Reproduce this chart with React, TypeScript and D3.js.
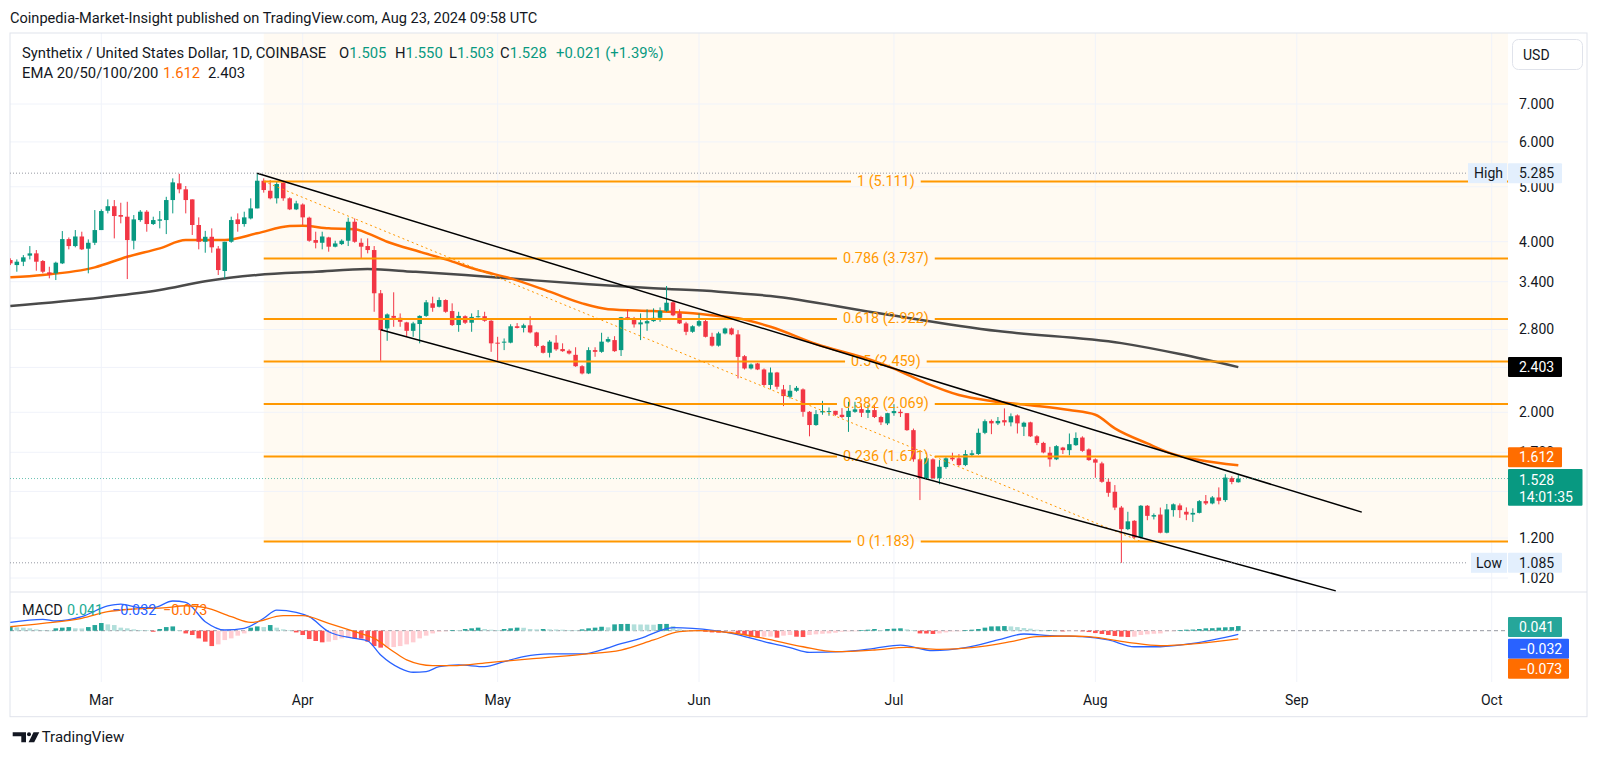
import React from "react";
import * as d3 from "d3";

// ---------- DATA ----------
const FIRST_DAY = "2024-02-16";
const opens = [
  3.713, 3.638, 3.688, 3.780, 3.815, 3.698, 3.532, 3.518, 3.663, 4.043,
  3.930, 4.086, 3.888, 3.983, 4.194, 4.536, 4.621, 4.458, 4.428, 4.016,
  4.368, 4.519, 4.298, 4.356, 4.368, 4.738, 5.071, 4.949, 4.751, 4.281,
  3.999, 4.081, 3.890, 3.551, 3.999, 4.380, 4.298, 4.397, 4.580, 5.125,
  4.921, 4.772, 5.084, 4.772, 4.562, 4.653, 4.410, 4.027, 3.983, 4.070,
  3.920, 3.962, 4.016, 4.338, 3.983, 3.930, 3.867, 3.244, 2.812, 2.959,
  2.936, 2.882, 2.785, 2.863, 2.959, 3.114, 3.071, 3.156, 3.018, 2.851,
  2.955, 2.878, 2.943, 2.955, 2.901, 2.654, 2.654, 2.654, 2.837, 2.818,
  2.848, 2.767, 2.619, 2.547, 2.654, 2.586, 2.568, 2.526, 2.412, 2.342,
  2.575, 2.557, 2.665, 2.682, 2.575, 2.943, 2.921, 2.859, 2.870, 2.897,
  2.936, 3.021, 3.127, 2.990, 2.870, 2.774, 2.844, 2.897, 2.718, 2.622,
  2.756, 2.812, 2.745, 2.512, 2.390, 2.439, 2.380, 2.235, 2.351, 2.195,
  2.130, 2.183, 2.195, 2.004, 1.899, 1.999, 2.004, 2.012, 1.980, 1.962,
  2.004, 2.026, 1.996, 2.018, 1.962, 1.912, 1.993, 2.004, 1.993, 1.860,
  1.652, 1.530, 1.652, 1.530, 1.601, 1.663, 1.659, 1.614, 1.682, 1.688,
  1.840, 1.931, 1.912, 1.937, 1.920, 1.975, 1.886, 1.920, 1.814, 1.766,
  1.697, 1.652, 1.733, 1.715, 1.750, 1.805, 1.720, 1.652, 1.625, 1.508,
  1.448, 1.358, 1.244, 1.287, 1.202, 1.368, 1.309, 1.320, 1.226, 1.344,
  1.370, 1.335, 1.320, 1.329, 1.394, 1.381, 1.415, 1.400, 1.531, 1.505,
];
const highs = [
  3.739, 3.723, 3.789, 3.930, 3.867, 3.713, 3.613, 3.688, 4.177, 4.070,
  4.194, 4.166, 4.038, 4.549, 4.562, 4.751, 4.738, 4.686, 4.705, 4.458,
  4.549, 4.549, 4.428, 4.531, 4.801, 5.174, 5.270, 5.016, 4.751, 4.416,
  4.180, 4.223, 3.930, 3.999, 4.428, 4.488, 4.519, 4.771, 5.285, 5.174,
  5.139, 5.104, 5.104, 4.791, 4.724, 4.674, 4.428, 4.166, 4.166, 4.081,
  4.016, 4.038, 4.410, 4.397, 4.054, 4.054, 3.930, 3.287, 2.989, 3.257,
  2.989, 2.889, 2.889, 2.966, 3.156, 3.199, 3.191, 3.165, 3.114, 3.009,
  2.966, 2.989, 3.030, 3.009, 2.909, 2.718, 2.700, 2.860, 2.874, 2.867,
  2.955, 2.774, 2.629, 2.682, 2.736, 2.647, 2.583, 2.605, 2.422, 2.605,
  2.605, 2.763, 2.718, 2.725, 2.947, 3.039, 2.947, 2.989, 3.039, 3.051,
  3.063, 3.341, 3.144, 3.039, 2.889, 2.848, 2.989, 2.917, 2.763, 2.774,
  2.822, 2.822, 2.793, 2.523, 2.439, 2.445, 2.390, 2.399, 2.357, 2.235,
  2.235, 2.225, 2.204, 2.010, 2.018, 2.095, 2.040, 2.012, 2.034, 2.087,
  2.087, 2.073, 2.060, 2.060, 1.972, 1.996, 2.067, 2.024, 1.993, 1.872,
  1.659, 1.666, 1.659, 1.647, 1.666, 1.697, 1.688, 1.715, 1.715, 1.872,
  1.943, 1.943, 1.962, 2.032, 1.991, 1.983, 1.925, 1.925, 1.822, 1.774,
  1.738, 1.750, 1.738, 1.835, 1.843, 1.814, 1.727, 1.659, 1.636, 1.528,
  1.488, 1.367, 1.335, 1.290, 1.372, 1.372, 1.326, 1.358, 1.378, 1.381,
  1.381, 1.359, 1.354, 1.400, 1.429, 1.423, 1.474, 1.555, 1.542, 1.550,
];
const lows = [
  3.638, 3.541, 3.623, 3.723, 3.555, 3.518, 3.447, 3.423, 3.653, 3.878,
  3.910, 3.867, 3.518, 3.946, 4.194, 4.488, 4.054, 4.310, 3.437, 3.878,
  4.338, 4.166, 4.281, 4.223, 4.126, 4.488, 4.870, 4.488, 4.111, 3.878,
  3.825, 3.825, 3.494, 3.447, 3.983, 4.166, 4.252, 4.380, 4.580, 4.883,
  4.752, 4.672, 4.724, 4.549, 4.549, 4.281, 3.999, 3.893, 3.878, 3.841,
  3.910, 3.946, 3.930, 3.983, 3.739, 3.815, 3.009, 2.465, 2.674, 2.831,
  2.831, 2.718, 2.718, 2.647, 2.947, 3.009, 3.063, 2.997, 2.840, 2.774,
  2.863, 2.774, 2.939, 2.889, 2.557, 2.465, 2.575, 2.647, 2.812, 2.767,
  2.756, 2.605, 2.540, 2.499, 2.568, 2.557, 2.530, 2.406, 2.333, 2.336,
  2.506, 2.547, 2.654, 2.557, 2.514, 2.909, 2.822, 2.682, 2.785, 2.889,
  2.889, 3.009, 2.955, 2.863, 2.736, 2.763, 2.831, 2.711, 2.612, 2.612,
  2.745, 2.736, 2.295, 2.380, 2.380, 2.374, 2.225, 2.195, 2.195, 2.051,
  2.116, 2.174, 1.964, 1.814, 1.893, 1.980, 1.972, 1.972, 1.954, 1.847,
  1.996, 1.962, 1.954, 1.954, 1.899, 1.899, 1.972, 1.962, 1.855, 1.636,
  1.400, 1.523, 1.523, 1.493, 1.590, 1.640, 1.607, 1.607, 1.670, 1.682,
  1.830, 1.830, 1.899, 1.894, 1.889, 1.835, 1.816, 1.809, 1.750, 1.693,
  1.603, 1.647, 1.688, 1.679, 1.745, 1.703, 1.642, 1.533, 1.502, 1.419,
  1.344, 1.085, 1.239, 1.198, 1.198, 1.290, 1.294, 1.223, 1.223, 1.309,
  1.302, 1.290, 1.281, 1.326, 1.372, 1.376, 1.376, 1.390, 1.493, 1.503,
];
const closes = [
  3.663, 3.688, 3.754, 3.815, 3.688, 3.541, 3.504, 3.673, 4.043, 3.930,
  4.086, 3.878, 3.983, 4.194, 4.531, 4.621, 4.440, 4.428, 4.027, 4.380,
  4.519, 4.298, 4.368, 4.380, 4.738, 5.091, 4.949, 4.738, 4.281, 3.999,
  4.081, 3.910, 3.565, 3.999, 4.368, 4.298, 4.416, 4.580, 5.125, 4.935,
  4.772, 5.057, 4.772, 4.562, 4.674, 4.416, 4.016, 3.983, 4.086, 3.920,
  3.972, 4.016, 4.338, 3.999, 3.920, 3.867, 3.244, 2.793, 2.977, 2.936,
  2.889, 2.785, 2.870, 2.959, 3.127, 3.058, 3.156, 3.009, 2.851, 2.959,
  2.878, 2.947, 2.955, 2.901, 2.647, 2.647, 2.665, 2.837, 2.818, 2.848,
  2.767, 2.619, 2.547, 2.665, 2.583, 2.564, 2.540, 2.412, 2.342, 2.575,
  2.557, 2.665, 2.693, 2.564, 2.943, 2.921, 2.859, 2.882, 2.897, 2.936,
  3.021, 3.122, 2.966, 2.870, 2.774, 2.837, 2.897, 2.718, 2.622, 2.756,
  2.812, 2.745, 2.505, 2.390, 2.429, 2.380, 2.235, 2.351, 2.219, 2.136,
  2.183, 2.209, 2.004, 1.899, 1.985, 2.010, 2.010, 1.980, 1.962, 2.012,
  2.024, 1.996, 2.018, 1.962, 1.920, 1.993, 2.010, 1.993, 1.860, 1.652,
  1.530, 1.659, 1.530, 1.603, 1.659, 1.652, 1.614, 1.688, 1.693, 1.840,
  1.929, 1.912, 1.931, 1.920, 1.968, 1.912, 1.917, 1.814, 1.766, 1.699,
  1.652, 1.743, 1.715, 1.757, 1.802, 1.710, 1.647, 1.630, 1.508, 1.442,
  1.358, 1.244, 1.284, 1.202, 1.368, 1.313, 1.317, 1.226, 1.348, 1.376,
  1.344, 1.320, 1.329, 1.394, 1.381, 1.415, 1.396, 1.534, 1.507, 1.528,
];
const macdHist = [
  0.035, 0.030, 0.027, 0.021, 0.012, 0.003, 0.001, 0.021, 0.027, 0.032,
  0.021, 0.020, 0.032, 0.050, 0.068, 0.056, 0.050, 0.027, 0.021, 0.012,
  0.006, 0.003, -0.009, 0.015, 0.032, 0.038, 0.006, -0.024, -0.038, -0.068,
  -0.097, -0.136, -0.121, -0.083, -0.068, -0.044, -0.024, 0.027, 0.038, 0.032,
  0.050, 0.027, 0.012, 0.003, -0.015, -0.038, -0.074, -0.091, -0.103, -0.097,
  -0.083, -0.068, -0.062, -0.068, -0.070, -0.097, -0.136, -0.150, -0.148, -0.145,
  -0.136, -0.121, -0.103, -0.068, -0.044, -0.024, -0.009, -0.001, 0.006, 0.005,
  0.015, 0.021, 0.027, 0.015, 0.009, 0.006, 0.015, 0.021, 0.027, 0.026,
  0.015, 0.012, 0.015, 0.012, 0.011, 0.009, 0.006, 0.003, 0.012, 0.021,
  0.027, 0.035, 0.030, 0.056, 0.059, 0.060, 0.056, 0.055, 0.054, 0.053,
  0.059, 0.060, 0.041, 0.012, 0.006, 0.003, 0.001, -0.009, -0.015, -0.018,
  -0.015, -0.012, -0.024, -0.038, -0.053, -0.059, -0.053, -0.052, -0.062, -0.044,
  -0.038, -0.053, -0.056, -0.038, -0.032, -0.027, -0.024, -0.018, -0.009, -0.006,
  -0.001, 0.006, 0.009, 0.015, 0.006, 0.015, 0.018, 0.021, 0.012, 0.003,
  -0.024, -0.025, -0.029, -0.024, -0.015, -0.006, -0.001, 0.006, 0.009, 0.015,
  0.027, 0.038, 0.039, 0.041, 0.038, 0.032, 0.024, 0.018, 0.009, 0.003,
  0.004, 0.001, -0.006, -0.003, -0.001, -0.006, -0.012, -0.021, -0.029, -0.038,
  -0.047, -0.053, -0.056, -0.053, -0.038, -0.032, -0.027, -0.024, -0.006, -0.001,
  0.006, 0.009, 0.010, 0.015, 0.021, 0.022, 0.027, 0.030, 0.032, 0.041,
];

const ema50Dates = [
  "2024-02-16", "2024-02-21", "2024-02-29", "2024-03-05", "2024-03-10", "2024-03-14",
  "2024-03-20", "2024-03-25", "2024-03-30", "2024-04-01", "2024-04-05", "2024-04-09",
  "2024-04-11", "2024-04-14", "2024-04-19", "2024-04-23", "2024-04-28", "2024-05-03",
  "2024-05-09", "2024-05-14", "2024-05-18", "2024-05-25", "2024-05-30", "2024-06-04",
  "2024-06-07", "2024-06-12", "2024-06-19", "2024-06-28", "2024-07-01", "2024-07-06",
  "2024-07-11", "2024-07-16", "2024-07-22", "2024-07-28", "2024-08-01", "2024-08-04",
  "2024-08-09", "2024-08-13", "2024-08-17", "2024-08-23",
];
const ema50Values = [
  3.461, 3.494, 3.604, 3.763, 3.894, 4.027, 4.027, 4.139, 4.263, 4.268, 4.223, 4.206,
  4.139, 4.000, 3.840, 3.723, 3.565, 3.447, 3.265, 3.114, 3.041, 3.018, 2.997, 2.959,
  2.931, 2.831, 2.640, 2.461, 2.388, 2.250, 2.146, 2.094, 2.058, 2.018, 1.980, 1.873,
  1.762, 1.687, 1.647, 1.612,
];
const ema200Dates = [
  "2024-02-16", "2024-03-01", "2024-03-10", "2024-03-17", "2024-03-25", "2024-04-03",
  "2024-04-11", "2024-04-18", "2024-04-26", "2024-05-06", "2024-05-15", "2024-05-25",
  "2024-06-04", "2024-06-12", "2024-06-28", "2024-07-17", "2024-08-05", "2024-08-14",
  "2024-08-23",
];
const ema200Values = [
  3.080, 3.189, 3.287, 3.405, 3.494, 3.541, 3.579, 3.541, 3.494, 3.423, 3.364, 3.310,
  3.265, 3.208, 3.000, 2.782, 2.649, 2.534, 2.403,
];
const macdDates = [
  "2024-02-16", "2024-02-21", "2024-02-23", "2024-02-27", "2024-03-02", "2024-03-04",
  "2024-03-07", "2024-03-09", "2024-03-12", "2024-03-14", "2024-03-17", "2024-03-20",
  "2024-03-23", "2024-03-26", "2024-03-28", "2024-03-31", "2024-04-02", "2024-04-05",
  "2024-04-09", "2024-04-11", "2024-04-13", "2024-04-16", "2024-04-18", "2024-04-20",
  "2024-04-22", "2024-04-25", "2024-04-29", "2024-05-02", "2024-05-05", "2024-05-09",
  "2024-05-14", "2024-05-17", "2024-05-20", "2024-05-23", "2024-05-28", "2024-05-31",
  "2024-06-06", "2024-06-11", "2024-06-15", "2024-06-18", "2024-06-23", "2024-06-28",
  "2024-07-02", "2024-07-07", "2024-07-12", "2024-07-17", "2024-07-21", "2024-07-25",
  "2024-07-30", "2024-08-03", "2024-08-07", "2024-08-11", "2024-08-16", "2024-08-23",
];
const macdValues = [
  0.074, 0.101, 0.086, 0.124, 0.219, 0.236, 0.204, 0.204, 0.263, 0.251, 0.080, 0.006,
  0.021, 0.110, 0.183, 0.163, 0.124, -0.009, -0.068, -0.091, -0.215, -0.333, -0.368, -0.362,
  -0.318, -0.303, -0.318, -0.274, -0.230, -0.206, -0.206, -0.170, -0.115, -0.068, 0.027, 0.021,
  -0.023, -0.097, -0.150, -0.192, -0.186, -0.156, -0.127, -0.177, -0.150, -0.082, -0.029, -0.044,
  -0.053, -0.082, -0.142, -0.142, -0.112, -0.032,
];
const signalDates = [
  "2024-02-16", "2024-02-21", "2024-02-27", "2024-03-02", "2024-03-06", "2024-03-11",
  "2024-03-14", "2024-03-17", "2024-03-21", "2024-03-24", "2024-03-29", "2024-04-01",
  "2024-04-05", "2024-04-09", "2024-04-12", "2024-04-15", "2024-04-17", "2024-04-21",
  "2024-04-24", "2024-04-30", "2024-05-06", "2024-05-14", "2024-05-20", "2024-05-25",
  "2024-05-29", "2024-06-01", "2024-06-06", "2024-06-11", "2024-06-17", "2024-06-22",
  "2024-06-28", "2024-07-03", "2024-07-08", "2024-07-13", "2024-07-19", "2024-07-23",
  "2024-07-28", "2024-07-31", "2024-08-06", "2024-08-11", "2024-08-17", "2024-08-23",
];
const signalValues = [
  0.035, 0.065, 0.110, 0.168, 0.192, 0.204, 0.221, 0.204, 0.124, 0.074, 0.133, 0.133,
  0.065, -0.009, -0.068, -0.186, -0.259, -0.310, -0.310, -0.280, -0.250, -0.209, -0.171, -0.082,
  -0.009, 0.000, -0.018, -0.068, -0.142, -0.186, -0.171, -0.148, -0.165, -0.150, -0.097, -0.053,
  -0.047, -0.053, -0.103, -0.133, -0.112, -0.073,
];

const priceGridTicks = [7, 6, 5, 4, 3.4, 2.8, 2.4, 2.0, 1.7, 1.45, 1.2, 1.02];
const priceLabelTicks = [7, 6, 5, 4, 3.4, 2.8, 2.0, 1.7, 1.2, 1.02];
const monthTicks = ["2024-03-01", "2024-04-01", "2024-05-01", "2024-06-01", "2024-07-01", "2024-08-01", "2024-09-01", "2024-10-01"];
const monthLabels = ["Mar", "Apr", "May", "Jun", "Jul", "Aug", "Sep", "Oct"];

const fibRatios = ["1", "0.786", "0.618", "0.5", "0.382", "0.236", "0"];
const fibPrices = [5.111, 3.737, 2.922, 2.459, 2.069, 1.671, 1.183];
const fibAnchorDates = ["2024-03-26", "2024-08-08"];
const fibAnchorPrices = [5.111, 1.183];
const upperChannelDates = ["2024-03-25", "2024-09-11"];
const upperChannelPrices = [5.285, 1.333];
const lowerChannelDates = ["2024-04-13", "2024-09-07"];
const lowerChannelPrices = [2.798, 0.968];

const highValue = 5.285;
const lowValue = 1.085;
const lastEma50 = 1.612;
const lastEma200 = 2.403;
const lastMacd = { hist: 0.041, macd: -0.032, signal: -0.073 };

// ---------- HELPERS ----------
const FONT = "Roboto, 'Noto Sans', 'DejaVu Sans', sans-serif";
const parse = d3.utcParse("%Y-%m-%d");
let _ctx: CanvasRenderingContext2D | null = null;
function textW(t: string, size: number) {
  if (!_ctx) _ctx = document.createElement("canvas").getContext("2d");
  if (!_ctx) return t.length * size * 0.55;
  _ctx.font = `${size}px Roboto`;
  return _ctx.measureText(t).width;
}

const UP = "#089981";
const DOWN = "#f23645";
const FIB = "#ff9800";
const EMA_O = "#ff6d00";
const TEXT = "#131722";
const GRID = "#f0f3fa";

export default function App() {
  const L = 10, R = 1587, AX = 1508, TOP = 33, PB = 592, MB = 682, BOT = 716.7;

  const x = d3.scaleUtc()
    .domain([parse("2024-03-01")!, parse("2024-10-01")!])
    .range([101.3, 1491.7]);
  const y = d3.scaleLog().domain([1.02, 7]).range([578, 104]);
  const my = d3.scaleLinear().domain([-0.37, 0.27]).range([672.5, 600.2]);

  const day0 = parse(FIRST_DAY)!;
  const dates = closes.map((_, i) => d3.utcDay.offset(day0, i));
  const bw = 4.5;

  const priceLine = d3.line<[Date, number]>().x(d => x(d[0])).y(d => y(d[1])).curve(d3.curveMonotoneX);
  const macdLine = d3.line<[Date, number]>().x(d => x(d[0])).y(d => my(d[1])).curve(d3.curveMonotoneX);
  const zip = (ds: string[], vs: number[]) => ds.map((d, i) => [parse(d)!, vs[i]] as [Date, number]);

  const fibX0 = x(parse(fibAnchorDates[0])!);
  const fibCx = (fibX0 + AX) / 2;

  const histColor = (i: number) => {
    const v = macdHist[i];
    const p = i > 0 ? macdHist[i - 1] : 0;
    if (v >= 0) return v > p ? "#26a69a" : "#b2dfdb";
    return v < p ? "#ff5252" : "#ffcdd2";
  };

  const seg = (ds: string[], ps: number[], yy: (v: number) => number) => ({
    x1: x(parse(ds[0])!), y1: yy(ps[0]), x2: x(parse(ds[1])!), y2: yy(ps[1]),
  });
  const up = seg(upperChannelDates, upperChannelPrices, y);
  const lo = seg(lowerChannelDates, lowerChannelPrices, y);
  const fibTrend = seg(fibAnchorDates, fibAnchorPrices, y);

  const lastClose = closes[closes.length - 1];
  const box = (yc: number, w: number, fill: string, label: string, color = "#fff") => (
    <g>
      <rect x={AX} y={yc - 10} width={w} height={20} fill={fill} rx={1} />
      <text x={AX + 11} y={yc} dominantBaseline="central" fontSize={14} fill={color}>{label}</text>
    </g>
  );

  return (
    <svg width={1600} height={759} style={{ position: "absolute", left: 0, top: 0, fontFamily: FONT }}>
      <rect x={0} y={0} width={1600} height={759} fill="#fff" />
      <defs>
        <clipPath id="pp"><rect x={L} y={TOP} width={AX - L} height={PB - TOP} /></clipPath>
        <clipPath id="mp"><rect x={L} y={PB} width={AX - L} height={MB - PB} /></clipPath>
        <clipPath id="axisClip"><rect x={AX} y={TOP} width={R - AX} height={PB - TOP} /></clipPath>
      </defs>

      <text x={10} y={23} fontSize={14.6} fill={TEXT}>
        Coinpedia-Market-Insight published on TradingView.com, Aug 23, 2024 09:58 UTC
      </text>

      {/* fib background */}
      <rect x={fibX0} y={TOP} width={AX - fibX0} height={y(fibPrices[6]) - TOP} fill="#fffaf2" />

      {/* grid */}
      <g stroke={GRID} strokeWidth={1}>
        {priceGridTicks.map(t => (
          <line key={"h" + t} x1={L} x2={AX} y1={y(t)} y2={y(t)} />
        ))}
        {monthTicks.map(m => (
          <line key={"v" + m} x1={x(parse(m)!)} x2={x(parse(m)!)} y1={TOP} y2={MB} />
        ))}
      </g>

      {/* frame */}
      <rect x={L} y={TOP} width={R - L} height={BOT - TOP} fill="none" stroke="#e0e3eb" />
      <line x1={L} x2={R} y1={PB} y2={PB} stroke="#e0e3eb" />

      <g clipPath="url(#pp)">
        {/* EMAs */}
        <path d={priceLine(zip(ema200Dates, ema200Values)) || ""} fill="none" stroke="#4a4a4a" strokeWidth={2.5} />
        <path d={priceLine(zip(ema50Dates, ema50Values)) || ""} fill="none" stroke={EMA_O} strokeWidth={2.5} />

        {/* candles */}
        {closes.map((c, i) => {
          const o = opens[i];
          const cx = x(dates[i]);
          const col = c >= o ? UP : DOWN;
          const yt = y(Math.max(o, c));
          const yb = y(Math.min(o, c));
          return (
            <g key={i}>
              <line x1={cx} x2={cx} y1={y(highs[i])} y2={y(lows[i])} stroke={col} strokeWidth={1} />
              <rect x={cx - bw / 2} y={yt} width={bw} height={Math.max(1, yb - yt)} fill={col} />
            </g>
          );
        })}

        {/* fib levels */}
        {fibPrices.map((p, i) => {
          const label = `${fibRatios[i]} (${p.toFixed(3)})`;
          const w = textW(label, 14.4);
          const yy = y(p);
          return (
            <g key={"f" + i}>
              <line x1={fibX0} x2={fibCx - w / 2 - 6} y1={yy} y2={yy} stroke={FIB} strokeWidth={2} />
              <line x1={fibCx + w / 2 + 6} x2={AX} y1={yy} y2={yy} stroke={FIB} strokeWidth={2} />
              <text x={fibCx} y={yy} textAnchor="middle" dominantBaseline="central" fontSize={14.4} fill={FIB}>{label}</text>
            </g>
          );
        })}

        {/* drawings */}
        <line {...fibTrend} stroke={FIB} strokeWidth={1} strokeDasharray="2 3" />
        <line {...up} stroke="#000" strokeWidth={1.5} />
        <line {...lo} stroke="#000" strokeWidth={1.5} />
      </g>

      {/* dotted marker lines */}
      <line x1={L} x2={1468} y1={y(highValue)} y2={y(highValue)} stroke="#9598a1" strokeDasharray="1 2" />
      <line x1={L} x2={1468} y1={y(lowValue)} y2={y(lowValue)} stroke="#9598a1" strokeDasharray="1 2" />
      <line x1={L} x2={AX} y1={y(lastClose)} y2={y(lastClose)} stroke={UP} strokeOpacity={0.6} strokeDasharray="1 2" />

      {/* legends */}
      <text y={58} fontSize={14.8} fill={TEXT}>
        <tspan x={22}>Synthetix / United States Dollar, 1D, COINBASE</tspan>
        <tspan x={339}>O</tspan><tspan fill={UP}>{opens[opens.length - 1].toFixed(3)}</tspan>
        <tspan x={395}>H</tspan><tspan fill={UP}>{highs[highs.length - 1].toFixed(3)}</tspan>
        <tspan x={449}>L</tspan><tspan fill={UP}>{lows[lows.length - 1].toFixed(3)}</tspan>
        <tspan x={500}>C</tspan><tspan fill={UP}>{lastClose.toFixed(3)}</tspan>
        <tspan x={556} fill={UP}>+0.021 (+1.39%)</tspan>
      </text>
      <text y={78} fontSize={14.8} fill={TEXT}>
        <tspan x={22}>EMA 20/50/100/200</tspan>
        <tspan x={163} fill={EMA_O}>{lastEma50.toFixed(3)}</tspan>
        <tspan x={208} fill={TEXT}>{lastEma200.toFixed(3)}</tspan>
      </text>

      {/* MACD pane */}
      <line x1={L} x2={AX} y1={my(0)} y2={my(0)} stroke="#9598a1" strokeDasharray="4 3" />
      <g clipPath="url(#mp)">
        {macdHist.map((v, i) => {
          const cx = x(dates[i]);
          const y0 = my(0), y1 = my(v);
          return <rect key={"m" + i} x={cx - 2.3} width={4.6} y={Math.min(y0, y1)} height={Math.max(0.6, Math.abs(y1 - y0))} fill={histColor(i)} />;
        })}
        <path d={macdLine(zip(macdDates, macdValues)) || ""} fill="none" stroke="#2962ff" strokeWidth={1.3} />
        <path d={macdLine(zip(signalDates, signalValues)) || ""} fill="none" stroke={EMA_O} strokeWidth={1.3} />
      </g>
      <text y={615} fontSize={14.4}>
        <tspan x={22} fill={TEXT}>MACD</tspan>
        <tspan x={67} fill="#22ab94">{lastMacd.hist.toFixed(3)}</tspan>
        <tspan x={112} fill="#2962ff">{"\u2212" + Math.abs(lastMacd.macd).toFixed(3)}</tspan>
        <tspan x={163} fill={EMA_O}>{"\u2212" + Math.abs(lastMacd.signal).toFixed(3)}</tspan>
      </text>

      {/* price axis labels */}
      {priceLabelTicks.map(t => (
        <text key={"t" + t} x={1519} y={y(t)} dominantBaseline="central" fontSize={14} fill={TEXT}>{t.toFixed(3)}</text>
      ))}

      {/* USD button */}
      <rect x={1512.5} y={39.5} width={70} height={30} rx={6} fill="#fff" stroke="#e0e3eb" />
      <text x={1523} y={54.5} dominantBaseline="central" fontSize={14} fill={TEXT}>USD</text>

      {/* axis boxes */}
      <rect x={1468} y={y(highValue) - 10} width={39} height={20} fill="#e3effd" />
      <text x={1474} y={y(highValue)} dominantBaseline="central" fontSize={14} fill={TEXT}>High</text>
      {box(y(highValue), 54, "#e3effd", highValue.toFixed(3), TEXT)}
      <rect x={1471} y={y(lowValue) - 10} width={36} height={20} fill="#e3effd" />
      <text x={1476} y={y(lowValue)} dominantBaseline="central" fontSize={14} fill={TEXT}>Low</text>
      {box(y(lowValue), 54, "#e3effd", lowValue.toFixed(3), TEXT)}
      {box(y(lastEma200), 54, "#000000", lastEma200.toFixed(3))}
      {box(457.3, 54, EMA_O, lastEma50.toFixed(3))}
      <rect x={AX} y={469} width={74.5} height={36.7} fill={UP} rx={1} />
      <text x={AX + 11} y={480} dominantBaseline="central" fontSize={14} fill="#fff">{lastClose.toFixed(3)}</text>
      <text x={AX + 11} y={496.5} dominantBaseline="central" fontSize={14} fill="#fff">14:01:35</text>

      {box(627, 54, "#26a69a", lastMacd.hist.toFixed(3))}
      {box(648.7, 61, "#2962ff", "\u2212" + Math.abs(lastMacd.macd).toFixed(3))}
      {box(668.7, 61, EMA_O, "\u2212" + Math.abs(lastMacd.signal).toFixed(3))}

      {/* time axis */}
      {monthTicks.map((m, i) => (
        <text key={"ml" + m} x={x(parse(m)!)} y={700} textAnchor="middle" dominantBaseline="central" fontSize={14} fill={TEXT}>{monthLabels[i]}</text>
      ))}

      {/* logo */}
      <g fill={TEXT}>
        <path d="M12.7 732.3 H26 V742.3 H21.3 V736.3 H12.7 Z" />
        <circle cx={29} cy={734.3} r={2} />
        <path d="M33.5 732.3 H39.3 L34.2 742.3 H28.6 Z" />
      </g>
      <text x={41.7} y={742.3} fontSize={15} fill={TEXT}>TradingView</text>
    </svg>
  );
}
